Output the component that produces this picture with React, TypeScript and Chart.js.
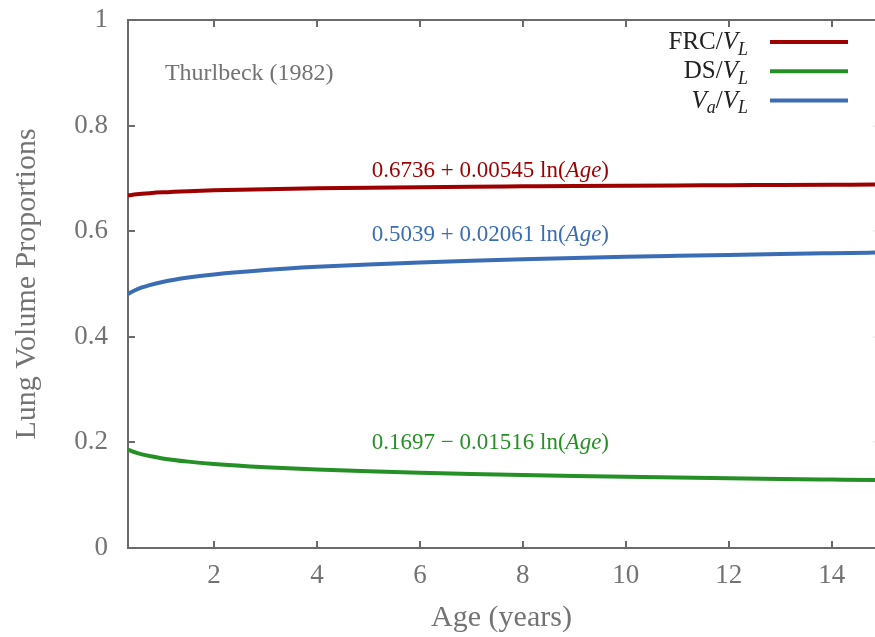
import React, { useEffect, useRef } from "react";
import Chart from "chart.js/auto";

// Age (years) sample points
const ages = [0.33, 0.4, 0.5, 0.6, 0.75, 1, 1.5, 2, 3, 4, 5, 6, 7, 8, 9, 10, 11, 12, 13, 14, 14.84];
// FRC / V_L
const frcValues = [0.6676, 0.6686, 0.6698, 0.6708, 0.672, 0.6736, 0.6758, 0.6774, 0.6796, 0.6812, 0.6824, 0.6834, 0.6842, 0.6849, 0.6856, 0.6862, 0.6867, 0.6871, 0.6876, 0.688, 0.6883];
// DS / V_L
const dsValues = [0.1865, 0.1836, 0.1802, 0.1774, 0.1741, 0.1697, 0.1636, 0.1592, 0.1531, 0.1487, 0.1453, 0.1425, 0.1402, 0.1382, 0.1364, 0.1348, 0.1334, 0.132, 0.1308, 0.1297, 0.1288];
// V_a / V_L
const vaValues = [0.4811, 0.485, 0.4896, 0.4934, 0.498, 0.5039, 0.5123, 0.5182, 0.5265, 0.5325, 0.5371, 0.5408, 0.544, 0.5468, 0.5492, 0.5514, 0.5533, 0.5551, 0.5568, 0.5583, 0.5595];

const xTickValues = [2, 4, 6, 8, 10, 12, 14];
const yTickValues = [0, 0.2, 0.4, 0.6, 0.8, 1];
const yTickLabels = ["0", "0.2", "0.4", "0.6", "0.8", "1"];

const xLabel = "Age (years)";
const yLabel = "Lung Volume Proportions";
const sourceNote = "Thurlbeck (1982)";

type Seg = { t: string; it?: boolean; sub?: boolean };

const legendLabels: Seg[][] = [
  [{ t: "FRC/" }, { t: "V", it: true }, { t: "L", it: true, sub: true }],
  [{ t: "DS/" }, { t: "V", it: true }, { t: "L", it: true, sub: true }],
  [{ t: "V", it: true }, { t: "a", it: true, sub: true }, { t: "/" }, { t: "V", it: true }, { t: "L", it: true, sub: true }],
];

const fitLabels: Seg[][] = [
  [{ t: "0.6736 + 0.00545 ln(" }, { t: "Age", it: true }, { t: ")" }],
  [{ t: "0.1697 \u2212 0.01516 ln(" }, { t: "Age", it: true }, { t: ")" }],
  [{ t: "0.5039 + 0.02061 ln(" }, { t: "Age", it: true }, { t: ")" }],
];
// anchor (center x, baseline y) of each fit label in data units
const fitAnchorX = [7.37, 7.37, 7.37];
const fitAnchorY = [0.7025, 0.187, 0.581];

const RED = "#9c0000";
const GREEN = "#259025";
const BLUE = "#3b6db4";
const GRAY = "#6a6a6a";
const TEXT_GRAY = "#737373";
const FONT = "'Liberation Serif', 'DejaVu Serif', serif";

function drawRich(
  ctx: CanvasRenderingContext2D,
  segs: Seg[],
  x: number,
  y: number,
  size: number,
  color: string,
  align: "left" | "center" | "right"
) {
  const fontFor = (s: Seg) =>
    `${s.it ? "italic " : ""}${s.sub ? Math.round(size * 0.72) : size}px ${FONT}`;
  const widths = segs.map((s) => {
    ctx.font = fontFor(s);
    return ctx.measureText(s.t).width;
  });
  const total = widths.reduce((a, b) => a + b, 0);
  let cx = align === "left" ? x : align === "center" ? x - total / 2 : x - total;
  ctx.save();
  ctx.fillStyle = color;
  ctx.textAlign = "left";
  ctx.textBaseline = "alphabetic";
  segs.forEach((s, i) => {
    ctx.font = fontFor(s);
    ctx.fillText(s.t, cx, s.sub ? y + size * 0.22 : y);
    cx += widths[i];
  });
  ctx.restore();
}

const decorPlugin = {
  id: "decor",
  afterDatasetsDraw(chart: any) {
    const ctx: CanvasRenderingContext2D = chart.ctx;
    const { left, right, top, bottom } = chart.chartArea;
    const xs = chart.scales.x;
    const ys = chart.scales.y;
    ctx.save();
    // top frame line
    ctx.strokeStyle = GRAY;
    ctx.lineWidth = 2;
    ctx.beginPath();
    ctx.moveTo(left - 1, top);
    ctx.lineTo(right, top);
    ctx.stroke();
    // inward ticks
    const tl = 7;
    ctx.beginPath();
    xTickValues.forEach((v) => {
      const px = Math.round(xs.getPixelForValue(v));
      ctx.moveTo(px, top);
      ctx.lineTo(px, top + tl);
      ctx.moveTo(px, bottom);
      ctx.lineTo(px, bottom - tl);
    });
    yTickValues.forEach((v) => {
      const py = Math.round(ys.getPixelForValue(v));
      ctx.moveTo(left, py);
      ctx.lineTo(left + tl, py);
    });
    ctx.stroke();
    // faint right-side ticks at the cut edge
    ctx.strokeStyle = "#dddddd";
    ctx.lineWidth = 1;
    ctx.beginPath();
    yTickValues.slice(1, 5).forEach((v) => {
      const py = Math.round(ys.getPixelForValue(v));
      ctx.moveTo(right - 2, py);
      ctx.lineTo(right, py);
    });
    ctx.stroke();
    ctx.restore();

    // source note
    drawRich(ctx, [{ t: sourceNote }], xs.getPixelForValue(1.047), ys.getPixelForValue(0.886), 24, TEXT_GRAY, "left");

    // fit formulas
    const colors = chart.data.datasets.map((d: any) => d.borderColor);
    fitLabels.forEach((segs, i) => {
      drawRich(ctx, segs, xs.getPixelForValue(fitAnchorX[i]), ys.getPixelForValue(fitAnchorY[i]), 23, colors[i], "center");
    });

    // legend
    legendLabels.forEach((segs, i) => {
      const cy = top + 22 + i * 29.3;
      drawRich(ctx, segs, right - 127, cy + 7, 25, "#222222", "right");
      ctx.save();
      ctx.strokeStyle = colors[i];
      ctx.lineWidth = 4;
      ctx.beginPath();
      ctx.moveTo(right - 105, cy);
      ctx.lineTo(right - 27, cy);
      ctx.stroke();
      ctx.restore();
    });
  },
};

export default function App() {
  const ref = useRef<HTMLCanvasElement | null>(null);
  useEffect(() => {
    if (!ref.current) return;
    const mk = (vals: number[]) => ages.map((a, i) => ({ x: a, y: vals[i] }));
    const chart = new Chart(ref.current, {
      type: "line",
      data: {
        datasets: [
          { label: "FRC/VL", data: mk(frcValues), borderColor: RED, borderWidth: 4, pointRadius: 0, cubicInterpolationMode: "monotone", fill: false },
          { label: "DS/VL", data: mk(dsValues), borderColor: GREEN, borderWidth: 4, pointRadius: 0, cubicInterpolationMode: "monotone", fill: false },
          { label: "Va/VL", data: mk(vaValues), borderColor: BLUE, borderWidth: 4, pointRadius: 0, cubicInterpolationMode: "monotone", fill: false },
        ],
      },
      options: {
        responsive: false,
        animation: false,
        events: [],
        layout: { padding: { top: 20, right: 0, left: 0, bottom: 0 } },
        plugins: { legend: { display: false }, tooltip: { enabled: false } },
        scales: {
          x: {
            type: "linear",
            min: 0.33,
            max: 14.84,
            afterBuildTicks: (s: any) => {
              s.ticks = xTickValues.map((v) => ({ value: v }));
            },
            afterFit: (s: any) => {
              s.height = 89;
              s.paddingLeft = 0;
              s.paddingRight = 0;
            },
            grid: { display: false, tickLength: 0 },
            border: { display: true, color: GRAY, width: 2 },
            ticks: { color: TEXT_GRAY, font: { family: FONT, size: 27 }, padding: 12, maxRotation: 0 },
            title: { display: true, text: xLabel, color: TEXT_GRAY, font: { family: FONT, size: 30 }, padding: { top: 0, bottom: 1 } },
          },
          y: {
            type: "linear",
            min: 0,
            max: 1,
            afterBuildTicks: (s: any) => {
              s.ticks = yTickValues.map((v) => ({ value: v }));
            },
            afterFit: (s: any) => {
              s.width = 128;
              s.paddingTop = 0;
              s.paddingBottom = 0;
            },
            grid: { display: false, tickLength: 0 },
            border: { display: true, color: GRAY, width: 2 },
            ticks: {
              color: TEXT_GRAY,
              font: { family: FONT, size: 27 },
              padding: 20,
              callback: (v: any) => {
                const i = yTickValues.indexOf(Number(v));
                return i >= 0 ? yTickLabels[i] : "";
              },
            },
            title: { display: true, text: yLabel, color: TEXT_GRAY, font: { family: FONT, size: 30 }, padding: { top: 9, bottom: 0 } },
          },
        },
      },
      plugins: [decorPlugin],
    } as any);
    return () => chart.destroy();
  }, []);
  return (
    <div style={{ position: "absolute", left: 0, top: 0, width: 875, height: 637, background: "#fff" }}>
      <canvas ref={ref} width={875} height={637} style={{ display: "block" }} />
    </div>
  );
}
